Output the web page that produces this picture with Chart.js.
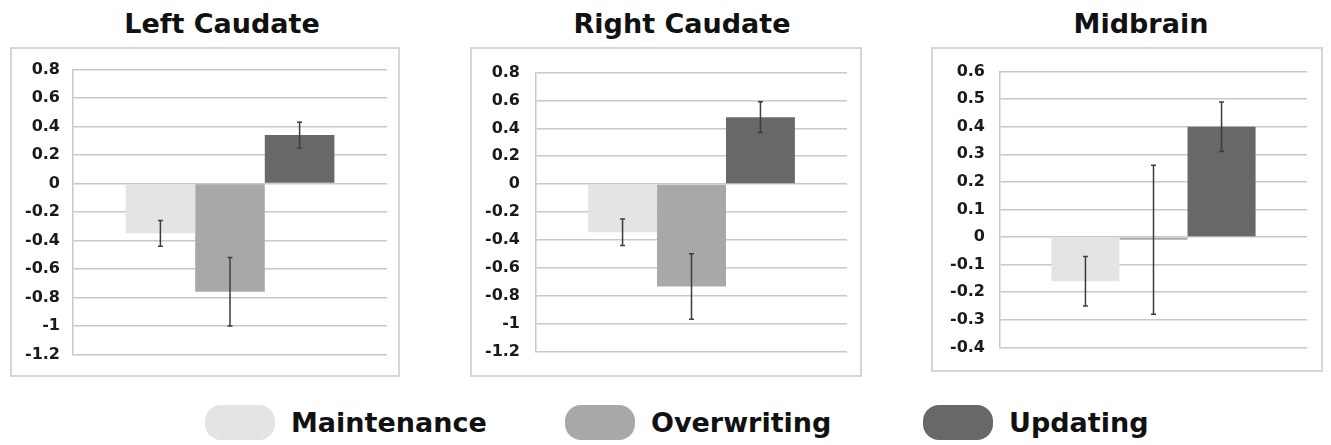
<!DOCTYPE html>
<html>
<head>
<meta charset="utf-8">
<script src="https://cdn.jsdelivr.net/npm/chart.js@4.4.1/dist/chart.umd.min.js"></script>
<style>
  body { margin: 0; background: #fff; width: 1331px; height: 445px; position: relative; overflow: hidden; font-family: "DejaVu Sans", sans-serif; }
  .box { position: absolute; border: 2px solid #d6d6d6; box-sizing: border-box; }
  .box canvas { position: absolute; left: -2px; top: -2px; }
  .ttl { position: absolute; width: 400px; text-align: center; font-weight: bold; font-size: 27px; line-height: 27px; color: #111; }
  .leg { position: absolute; top: 405px; display: flex; align-items: center; }
  .sw { width: 70px; height: 35px; border-radius: 16px; margin-right: 16px; }
  .lt { font-weight: bold; font-size: 27px; color: #111; }
</style>
</head>
<body>

<script>
// data
const series = ['Maintenance', 'Overwriting', 'Updating'];
const barColors = ['#e4e4e4', '#a8a8a8', '#686868'];

const panelTitles = ['Left Caudate', 'Right Caudate', 'Midbrain'];

const leftMeans = [-0.35, -0.76, 0.34];
const leftErr = [0.09, 0.24, 0.09];

const rightMeans = [-0.345, -0.735, 0.48];
const rightErr = [0.095, 0.235, 0.11];

const midMeans = [-0.16, -0.01, 0.40];
const midErr = [0.09, 0.27, 0.09];

const caudateTicks = [-1.2, 0.8, 0.2];   // min, max, step
const midTicks = [-0.4, 0.6, 0.1];

// error bars drawn from the same arrays via the y scale
const errorBars = {
  id: 'errorBars',
  afterDatasetsDraw(chart) {
    const ctx = chart.ctx;
    const y = chart.scales.y;
    const errs = chart.options.plugins.errorBars.errs;
    chart.data.datasets.forEach((ds, i) => {
      const bar = chart.getDatasetMeta(i).data[0];
      const v = ds.data[0];
      const top = y.getPixelForValue(v + errs[i]);
      const bot = y.getPixelForValue(v - errs[i]);
      ctx.save();
      ctx.strokeStyle = '#3c3c3c';
      ctx.lineWidth = 1.5;
      ctx.beginPath();
      ctx.moveTo(bar.x, top); ctx.lineTo(bar.x, bot);
      ctx.moveTo(bar.x - 2.5, top); ctx.lineTo(bar.x + 2.5, top);
      ctx.moveTo(bar.x - 2.5, bot); ctx.lineTo(bar.x + 2.5, bot);
      ctx.stroke();
      ctx.restore();
    });
  }
};

function makePanel(opt) {
  const box = document.createElement('div');
  box.className = 'box';
  box.style.left = opt.left + 'px';
  box.style.top = opt.top + 'px';
  box.style.width = opt.w + 'px';
  box.style.height = opt.h + 'px';
  const cv = document.createElement('canvas');
  cv.width = opt.w; cv.height = opt.h;
  box.appendChild(cv);
  document.body.appendChild(box);

  const t = document.createElement('div');
  t.className = 'ttl';
  t.textContent = opt.title;
  t.style.left = (opt.titleX - 200) + 'px';
  t.style.top = '10px';
  document.body.appendChild(t);

  new Chart(cv.getContext('2d'), {
    type: 'bar',
    data: {
      labels: [''],
      datasets: series.map((s, i) => ({
        label: s,
        data: [opt.means[i]],
        backgroundColor: barColors[i],
        borderWidth: 0,
        categoryPercentage: 0.665,
        barPercentage: 1
      }))
    },
    options: {
      responsive: false,
      animation: false,
      layout: { padding: { top: opt.padTop, bottom: opt.padBottom, left: 0, right: opt.padRight } },
      plugins: {
        legend: { display: false },
        tooltip: { enabled: false },
        errorBars: { errs: opt.errs }
      },
      scales: {
        x: { display: false },
        y: {
          min: opt.ticks[0],
          max: opt.ticks[1],
          afterFit: (sc) => { sc.width = opt.axisW; },
          grid: { color: '#c8c8c8', lineWidth: 1.5, drawTicks: false },
          border: { display: true, color: '#c8c8c8', width: 1.5 },
          ticks: {
            stepSize: opt.ticks[2],
            padding: opt.tickPad,
            color: '#1a1a1a',
            font: { family: 'DejaVu Sans', weight: 'bold', size: 16 },
            callback: (v) => String(Math.round(v * 10) / 10)
          }
        }
      }
    },
    plugins: [errorBars]
  });
}

makePanel({ left: 10, top: 47, w: 390, h: 330, padTop: 20, padBottom: 21, padRight: 13, axisW: 63, tickPad: 13,
  title: panelTitles[0], titleX: 222, means: leftMeans, errs: leftErr, ticks: caudateTicks });
makePanel({ left: 470, top: 47, w: 392, h: 330, padTop: 20, padBottom: 21, padRight: 15, axisW: 66, tickPad: 16,
  title: panelTitles[1], titleX: 682, means: rightMeans, errs: rightErr, ticks: caudateTicks });
makePanel({ left: 931, top: 47, w: 392, h: 325, padTop: 20, padBottom: 24, padRight: 16, axisW: 69, tickPad: 15,
  title: panelTitles[2], titleX: 1141, means: midMeans, errs: midErr, ticks: midTicks });

// legend along the bottom
const legendX = [205, 565, 923];
series.forEach((s, i) => {
  const item = document.createElement('div');
  item.className = 'leg';
  item.style.left = legendX[i] + 'px';
  item.innerHTML = '<div class="sw" style="background:' + barColors[i] + '"></div><span class="lt">' + s + '</span>';
  document.body.appendChild(item);
});
</script>
</body>
</html>
